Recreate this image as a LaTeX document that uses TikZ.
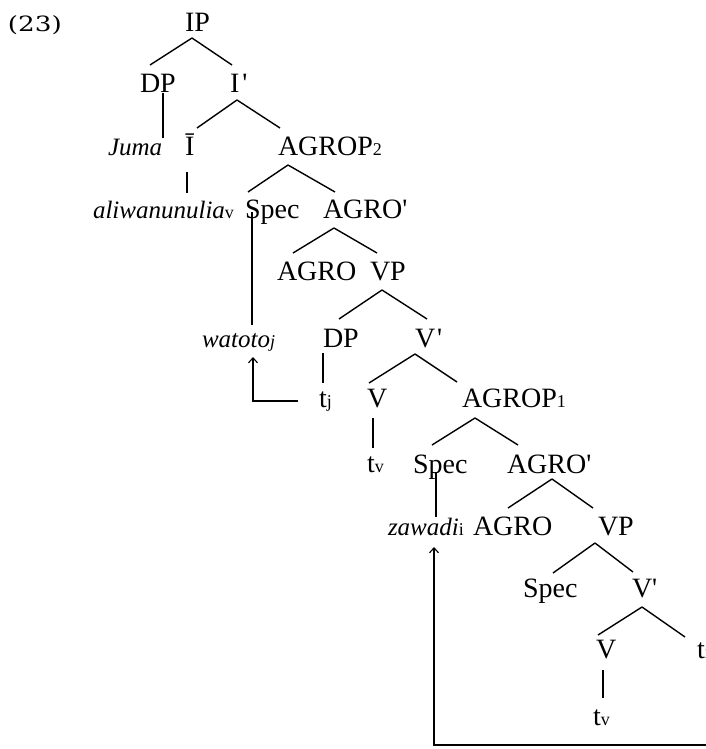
\documentclass[tikz,border=0pt]{standalone}
\usepackage{fontspec}
\setmainfont{Liberation Serif}[Ligatures=TeXOff]
\newfontfamily\numfont{DejaVu Serif}
\usetikzlibrary{arrows.meta}
\newcommand\sbs[1]{{\fontsize{18}{20}\selectfont #1}}
\begin{document}
\begin{tikzpicture}[x=1pt,y=-1pt,line width=1.4pt,
  tn/.style={anchor=base west,inner sep=0pt,outer sep=0pt,font=\fontsize{28}{30}\selectfont},
  itn/.style={tn,font=\fontsize{25}{27}\selectfont\itshape},
  mv/.style={-{Straight Barb[length=5pt,width=9pt,line width=1.1pt]}}]
\useasboundingbox (0,0) rectangle (706,749);
% nodes
\node[tn,font=\numfont\fontsize{21}{23}\selectfont,xscale=1.25] (ex) at (8,32) {(23)};
\node[tn] (IP) at (185,32) {IP};
\node[tn] (DPa) at (140,93) {DP};
\node[tn] (Ibar) at (230,93) {I\hspace{3pt}'};
\node[itn] (juma) at (108,155) {Juma};
\node[tn] (I0) at (185,155) {Ī};
\node[tn] (AGROPb) at (278,155) {AGROP\sbs{2}};
\node[itn] (verb) at (93,218) {aliwanunulia\sbs{\upshape v}};
\node[tn] (SpecA) at (245,218) {Spec};
\node[tn] (AGRObarA) at (323,218) {AGRO'};
\node[tn] (AGROA) at (277,280) {AGRO};
\node[tn] (VPA) at (370,280) {VP};
\node[itn] (watoto) at (202,347) {watoto\sbs{j}};
\node[tn] (DPb) at (323,347) {DP};
\node[tn] (VbarA) at (415,347) {V\hspace{2pt}'};
\node[tn] (tj) at (319,407) {t\sbs{j}};
\node[tn] (VA) at (367,407) {V};
\node[tn] (AGROPa) at (462,407) {AGROP\sbs{1}};
\node[tn] (tvA) at (367,472) {t\sbs{v}};
\node[tn] (SpecB) at (413,473) {Spec};
\node[tn] (AGRObarB) at (507,473) {AGRO'};
\node[itn] (zawadi) at (388,535) {zawadi\sbs{\upshape i}};
\node[tn] (AGROB) at (473,535) {AGRO};
\node[tn] (VPB) at (598,535) {VP};
\node[tn] (SpecC) at (523,597) {Spec};
\node[tn] (VbarB) at (632,597) {V'};
\node[tn] (VB) at (596,658) {V};
\node[tn] (ti) at (697,658) {t\sbs{i}};
\node[tn] (tvB) at (593,725) {t\sbs{v}};
\coordinate (farR) at (712,745);
% branches
\draw ([shift={(7,6)}]IP.base west) -- ([shift={(10,-28)}]DPa.base west);
\draw ([shift={(7,6)}]IP.base west) -- ([shift={(2,-28)}]Ibar.base west);
\draw ([shift={(7,7)}]Ibar.base west) -- ([shift={(12,-27)}]I0.base west);
\draw ([shift={(7,7)}]Ibar.base west) -- ([shift={(2,-27)}]AGROPb.base west);
\draw ([shift={(10,10)}]AGROPb.base west) -- ([shift={(3,-26)}]SpecA.base west);
\draw ([shift={(10,10)}]AGROPb.base west) -- ([shift={(12,-26)}]AGRObarA.base west);
\draw ([shift={(11,10)}]AGRObarA.base west) -- ([shift={(16,-27)}]AGROA.base west);
\draw ([shift={(11,10)}]AGRObarA.base west) -- ([shift={(7,-27)}]VPA.base west);
\draw ([shift={(12,10)}]VPA.base west) -- ([shift={(16,-28)}]DPb.base west);
\draw ([shift={(12,10)}]VPA.base west) -- ([shift={(12,-28)}]VbarA.base west);
\draw ([shift={(0,7)}]VbarA.base west) -- ([shift={(2,-24)}]VA.base west);
\draw ([shift={(0,7)}]VbarA.base west) -- ([shift={(-5,-25)}]AGROPa.base west);
\draw ([shift={(13,11)}]AGROPa.base west) -- ([shift={(19,-28)}]SpecB.base west);
\draw ([shift={(13,11)}]AGROPa.base west) -- ([shift={(11,-28)}]AGRObarB.base west);
\draw ([shift={(45,6)}]AGRObarB.base west) -- ([shift={(35,-27)}]AGROB.base west);
\draw ([shift={(45,6)}]AGRObarB.base west) -- ([shift={(-5,-27)}]VPB.base west);
\draw ([shift={(-3,8)}]VPB.base west) -- ([shift={(30,-24)}]SpecC.base west);
\draw ([shift={(-3,8)}]VPB.base west) -- ([shift={(1,-25)}]VbarB.base west);
\draw ([shift={(10,10)}]VbarB.base west) -- ([shift={(2,-23)}]VB.base west);
\draw ([shift={(10,10)}]VbarB.base west) -- ([shift={(-12,-21)}]ti.base west);
% vertical links
\draw ([shift={(23,0)}]DPa.base west) -- ([shift={(55,-17)}]juma.base west);
\draw ([shift={(2,17)}]I0.base west) -- ([shift={(94,-25)}]verb.base west);
\draw ([shift={(7,-6)}]SpecA.base west) -- ([shift={(50,-22)}]watoto.base west);
\draw ([shift={(0,6)}]DPb.base west) -- ([shift={(4,-24)}]tj.base west);
\draw ([shift={(6,11)}]VA.base west) -- ([shift={(6,-24)}]tvA.base west);
\draw ([shift={(23,-1)}]SpecB.base west) -- ([shift={(48,-18)}]zawadi.base west);
\draw ([shift={(7,12)}]VB.base west) -- ([shift={(10,-27)}]tvB.base west);
% movement arrows
\draw[mv] ([shift={(-21,-6)}]tj.base west) -| ([shift={(51,10)}]watoto.base west);
\draw[mv] (farR) -| ([shift={(46,12)}]zawadi.base west);
\end{tikzpicture}
\end{document}
